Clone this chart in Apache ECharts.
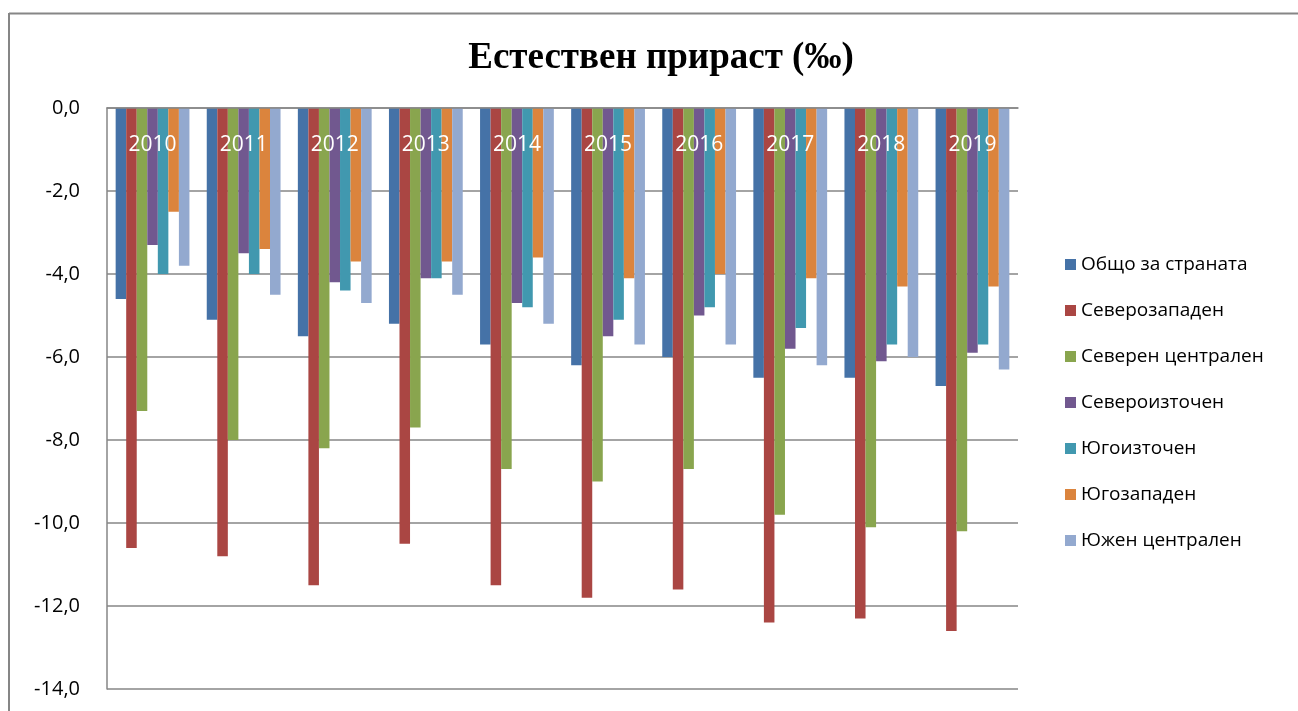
<!DOCTYPE html>
<html><head><meta charset="utf-8">
<script src="https://cdn.jsdelivr.net/npm/echarts@6/dist/echarts.min.js"></script>
<style>html,body{margin:0;padding:0;background:#fff}#c{width:1298px;height:711px}</style>
</head><body><div id="c"></div>
<script>
const years = ['2010','2011','2012','2013','2014','2015','2016','2017','2018','2019'];
const seriesNames = ['Общо за страната','Северозападен','Северен централен','Североизточен','Югоизточен','Югозападен','Южен централен'];
const obshto      = [-4.6, -5.1, -5.5, -5.2, -5.7, -6.2, -6.0, -6.5, -6.5, -6.7];
const severozapad = [-10.6, -10.8, -11.5, -10.5, -11.5, -11.8, -11.6, -12.4, -12.3, -12.6];
const severCentr  = [-7.3, -8.0, -8.2, -7.7, -8.7, -9.0, -8.7, -9.8, -10.1, -10.2];
const severoiztok = [-3.3, -3.5, -4.2, -4.1, -4.7, -5.5, -5.0, -5.8, -6.1, -5.9];
const yugoiztok   = [-4.0, -4.0, -4.4, -4.1, -4.8, -5.1, -4.8, -5.3, -5.7, -5.7];
const yugozapad   = [-2.5, -3.4, -3.7, -3.7, -3.6, -4.1, -4.0, -4.1, -4.3, -4.3];
const yuzhenCentr = [-3.8, -4.5, -4.7, -4.5, -5.2, -5.7, -5.7, -6.2, -6.0, -6.3];
const yTicks = [0, -2, -4, -6, -8, -10, -12, -14];
const titleText = 'Естествен прираст (‰)';

const allData = [obshto, severozapad, severCentr, severoiztok, yugoiztok, yugozapad, yuzhenCentr];
const colors = ['#4572A7','#AA4643','#89A54E','#71588F','#4198AF','#DB843D','#93A9CF'];

const chart = echarts.init(document.getElementById('c'), null, {renderer:'canvas'});
chart.setOption({
  animation: false,
  color: colors,
  graphic: [
    {type: 'line', shape: {x1: 9, y1: 13.5, x2: 1298, y2: 13.5}, style: {stroke: '#868686', lineWidth: 2}, z: -10},
    {type: 'line', shape: {x1: 9, y1: 13, x2: 9, y2: 711}, style: {stroke: '#868686', lineWidth: 2}, z: -10}
  ],
  title: {
    text: titleText, left: 656, top: 35, textAlign: 'center',
    textStyle: {fontFamily: 'Liberation Serif', fontWeight: 'bold', fontSize: 37, color: '#000'}
  },
  legend: {
    orient: 'vertical', left: 1060, top: 250,
    itemWidth: 11, itemHeight: 11, itemGap: 27,
    icon: 'rect',
    textStyle: {fontFamily: 'Open Sans', fontSize: 19, color: '#000'},
    data: seriesNames
  },
  grid: {left: 107, right: 280, top: 108, bottom: 22, containLabel: false},
  xAxis: {
    type: 'category', data: years, position: 'top', z: 10,
    axisLine: {show: true, lineStyle: {color: '#868686', width: 1.5}},
    axisTick: {show: false},
    axisLabel: {inside: true, color: '#fff', fontFamily: 'Open Sans', fontSize: 21, margin: 27}
  },
  yAxis: {
    type: 'value', min: -14, max: 0, interval: 2,
    axisLine: {show: true, lineStyle: {color: '#868686', width: 1.5}},
    axisTick: {show: false},
    splitLine: {show: true, lineStyle: {color: '#868686', width: 1.5}},
    axisLabel: {
      color: '#000', fontFamily: 'Open Sans', fontSize: 20, margin: 27,
      formatter: v => yTicks.includes(v) ? v.toFixed(1).replace('.', ',') : ''
    }
  },
  series: allData.map((d, i) => ({
    name: seriesNames[i], type: 'bar', data: d,
    barGap: '0%', barCategoryGap: '19%'
  }))
});
</script></body></html>
